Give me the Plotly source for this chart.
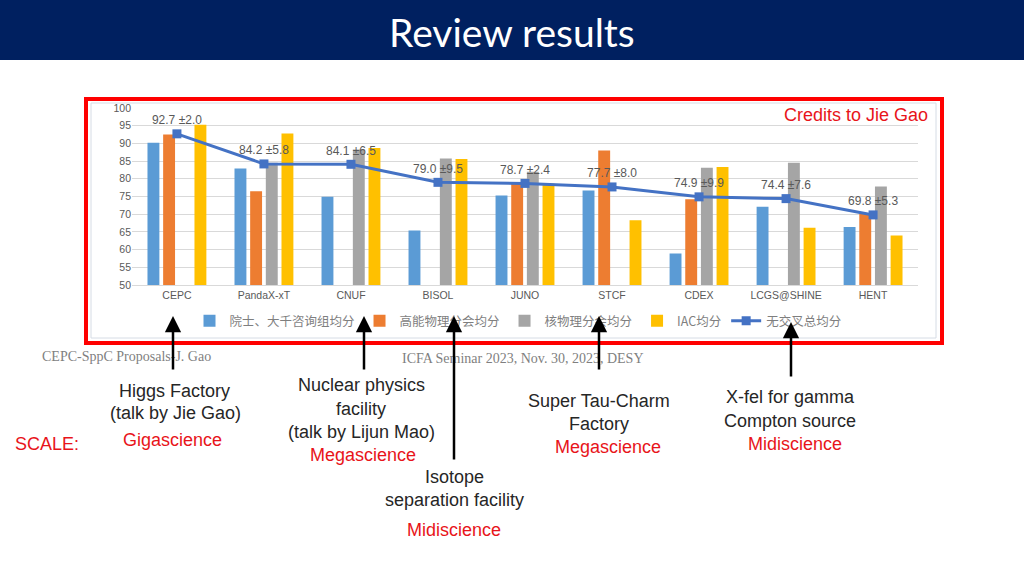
import plotly.graph_objects as go

# ---------------- data ----------------
categories = ["CEPC", "PandaX-xT", "CNUF", "BISOL", "JUNO", "STCF", "CDEX", "LCGS@SHINE", "HENT"]
academician_avg = [90.2, 82.9, 74.9, 65.4, 75.3, 76.7, 58.9, 72.1, 66.4]
hep_avg = [92.5, 76.5, None, None, 78.9, 88.0, 74.2, None, 70.1]
nuclear_avg = [None, 84.5, 88.3, 85.7, 82.0, None, 83.1, 84.5, 77.8]
iac_avg = [95.3, 92.8, 88.7, 85.6, 78.6, 68.3, 83.3, 66.2, 64.0]
overall_avg = [92.7, 84.2, 84.1, 79.0, 78.7, 77.7, 74.9, 74.4, 69.8]
overall_err = [2.0, 5.8, 6.5, 9.5, 2.4, 8.0, 9.9, 7.6, 5.3]
series_names = ["院士、大千咨询组均分", "高能物理分会均分", "核物理分会均分", "IAC均分", "无交叉总均分"]
y_ticks = list(range(50, 101, 5))

# ---------------- layout helpers ----------------
W, H = 1024, 576
L, R, T, B = 132, 106, 108, 291
PW, PH = W - L - R, H - T - B


def px(X):
    return (X - L) / PW


def py(Y):
    return (H - B - Y) / PH


blue, orange, gray, yellow, line_blue = "#5B9BD5", "#ED7D31", "#A5A5A5", "#FFC000", "#4472C4"
red = "#E8141A"
txt = "#262626"
tick_col = "#595959"

fig = go.Figure()
for vals, name, col in zip([academician_avg, hep_avg, nuclear_avg, iac_avg],
                           series_names[:4], [blue, orange, gray, yellow]):
    fig.add_trace(go.Bar(x=categories, y=vals, name=name, marker=dict(color=col, line=dict(width=0))))

labels = [f"{v:.1f} ±{e:.1f}" for v, e in zip(overall_avg, overall_err)]
fig.add_trace(go.Scatter(
    x=categories, y=overall_avg, name=series_names[4], mode="lines+markers+text",
    line=dict(color=line_blue, width=3), marker=dict(symbol="square", size=9, color=line_blue),
    text=labels, textposition="top center", textfont=dict(size=12, color=tick_col, family="Liberation Sans"),
))

fig.update_layout(
    width=W, height=H, margin=dict(l=L, r=R, t=T, b=B),
    paper_bgcolor="white", plot_bgcolor="white",
    barmode="group", bargap=0.28, bargroupgap=0.24,
    showlegend=True,
    legend=dict(orientation="h", x=px(518), y=py(321), xanchor="center", yanchor="middle",
                font=dict(size=12.5, color="#7F7F7F", family="Noto Sans CJK SC"),
                bgcolor="rgba(0,0,0,0)", itemwidth=30, tracegroupgap=0),
    font=dict(family="Liberation Sans"),
)
fig.update_yaxes(range=[50, 100], tickvals=y_ticks, showgrid=True, gridcolor="#D9D9D9", gridwidth=1,
                 zeroline=False, tickfont=dict(size=10.5, color=tick_col), ticks="", fixedrange=True)
fig.update_xaxes(showgrid=False, showline=True, linecolor="#D9D9D9", linewidth=1,
                 tickfont=dict(size=10.5, color=tick_col), ticks="")

shapes = [
    dict(type="rect", xref="paper", yref="paper", x0=px(0), x1=px(W), y0=py(0), y1=py(60),
         fillcolor="#002060", line=dict(width=0), layer="below"),
    dict(type="rect", xref="paper", yref="paper", x0=px(91), x1=px(936), y0=py(103), y1=py(338),
         fillcolor="rgba(0,0,0,0)", line=dict(width=1, color="#D6DCE5"), layer="above"),
    dict(type="rect", xref="paper", yref="paper", x0=px(86), x1=px(942), y0=py(99), y1=py(343),
         fillcolor="rgba(0,0,0,0)", line=dict(width=4, color="#FF0000"), layer="above"),
]
fig.update_layout(shapes=shapes)

ann = []


def text(X, Y, s, size=18, color=txt, family="Liberation Sans", xanchor="center"):
    ann.append(dict(xref="paper", yref="paper", x=px(X), y=py(Y), text=s, showarrow=False,
                    xanchor=xanchor, yanchor="middle", font=dict(size=size, color=color, family=family)))


text(512, 32, "Review results", size=39, color="white", family="Lato")
text(930, 115, "Credits to Jie Gao", size=18, color=red, xanchor="right")
text(40, 356, "CEPC-SppC Proposals-J. Gao", size=14, color="#7F7F7F", family="Liberation Serif", xanchor="left")
text(400, 358, "ICFA Seminar 2023, Nov. 30, 2023, DESY", size=14, color="#7F7F7F", family="Liberation Serif", xanchor="left")

# arrows: (x, tip_y, tail_y)
arrows = [(173, 316, 371), (364, 316, 371), (454, 316, 461), (599, 316, 371), (791, 322, 378)]
for X, ty, tl in arrows:
    ann.append(dict(xref="paper", yref="paper", x=px(X), y=py(ty), ax=0, ay=tl - ty, text="",
                    showarrow=True, arrowhead=2, arrowsize=1.3, arrowwidth=2.5, arrowcolor="black"))

text(174, 391, "Higgs Factory")
text(175, 413, "(talk by Jie Gao)")
text(172, 440, "Gigascience", color=red)
text(47, 444, "SCALE:", color=red)
text(361, 385, "Nuclear physics")
text(361, 409, "facility")
text(361, 432, "(talk by Lijun Mao)")
text(363, 455, "Megascience", color=red)
text(454, 477, "Isotope")
text(454, 500, "separation facility")
text(454, 530, "Midiscience", color=red)
text(599, 401, "Super Tau-Charm")
text(599, 424, "Factory")
text(608, 447, "Megascience", color=red)
text(790, 397, "X-fel for gamma")
text(790, 421, "Compton source")
text(795, 444, "Midiscience", color=red)

fig.update_layout(annotations=ann)
fig.write_html("out.html", config={"displayModeBar": False},
               post_script="document.body.style.margin='0px';")
